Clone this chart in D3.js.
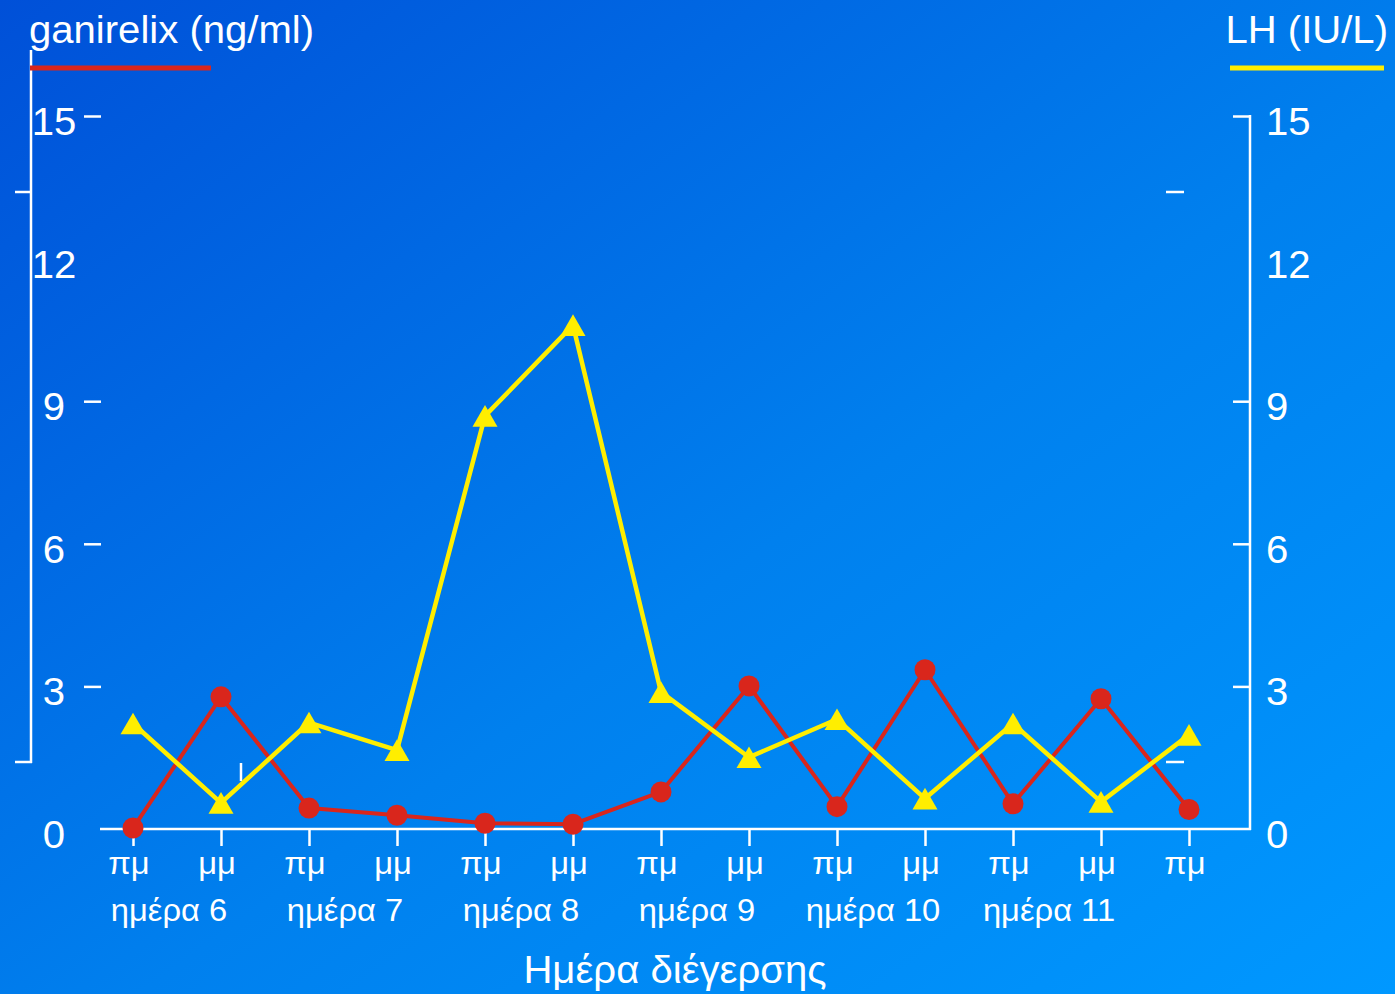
<!DOCTYPE html>
<html>
<head>
<meta charset="utf-8">
<script src="https://cdn.jsdelivr.net/npm/d3@7"></script>
<style>
  html, body { margin: 0; padding: 0; background: #0070e8; }
  svg { display: block; }
  text { font-family: "Liberation Sans", Arial, sans-serif; fill: #ffffff; }
</style>
</head>
<body>
<svg id="chart" width="1395" height="994"></svg>
<script>
// Sampling times (morning / afternoon) over stimulation days 6–11
const categories = ["πμ", "μμ", "πμ", "μμ", "πμ", "μμ", "πμ", "μμ", "πμ", "μμ", "πμ", "μμ", "πμ"];
const dayLabels = ["ημέρα 6", "ημέρα 7", "ημέρα 8", "ημέρα 9", "ημέρα 10", "ημέρα 11"];

// Serum ganirelix (ng/ml) and LH (IU/L)
const ganirelix = [0.02, 2.78, 0.44, 0.29, 0.12, 0.10, 0.78, 3.01, 0.47, 3.35, 0.53, 2.74, 0.41];
const lh        = [2.22, 0.55, 2.24, 1.66, 8.69, 10.6, 2.88, 1.51, 2.31, 0.64, 2.22, 0.57, 1.98];

// Axis ticks
const yTickLabels = [0, 3, 6, 9, 12, 15];
const yTickMarks = [3, 6, 9, 15];

const svg = d3.select("#chart");
const W = 1395, H = 994;
const SX = 1.055; // slightly wide lettering

// Places a text element at (px, py) with the wide lettering
function place(sel, px, py) {
  return sel.attr("transform", (d, i) => {
    const X = typeof px === "function" ? px(d, i) : px;
    const Y = typeof py === "function" ? py(d, i) : py;
    return `translate(${X},${Y}) scale(${SX},1)`;
  });
}

// Background gradient
const defs = svg.append("defs");
const grad = defs.append("linearGradient")
  .attr("id", "bg").attr("x1", "0").attr("y1", "0").attr("x2", "1").attr("y2", "1");
grad.append("stop").attr("offset", "0%").attr("stop-color", "#0050d8");
grad.append("stop").attr("offset", "55%").attr("stop-color", "#0080ee");
grad.append("stop").attr("offset", "100%").attr("stop-color", "#0098ff");
svg.append("rect").attr("width", W).attr("height", H).attr("fill", "url(#bg)");

const idx = categories.map((_, i) => i);
const x = d3.scalePoint().domain(idx).range([133, 1189]);
const y = d3.scaleLinear().domain([0, 15]).range([829, 116]);

const white = "#ffffff";
const red = "#d9261c";
const yellow = "#ffee00";

// Left value axis: tick marks only, detached from the outer frame line
const leftAxis = svg.append("g")
  .attr("transform", "translate(101,0)")
  .call(d3.axisLeft(y).tickValues(yTickMarks).tickSize(17).tickFormat(""));
leftAxis.select(".domain").remove();
leftAxis.selectAll(".tick line").attr("stroke", white).attr("stroke-width", 2.5);

place(svg.append("g").selectAll("text")
  .data(yTickLabels).join("text"), 54, d => y(d) + 19)
  .attr("text-anchor", "middle")
  .attr("font-size", 38)
  .text(d => d);

// Right value axis
const rightAxis = svg.append("g")
  .attr("transform", "translate(1250,0)")
  .call(d3.axisLeft(y).tickValues(yTickMarks).tickSize(17).tickFormat("").tickSizeOuter(0));
rightAxis.select(".domain").remove();
rightAxis.selectAll(".tick line").attr("stroke", white).attr("stroke-width", 2.5);
svg.append("line")
  .attr("x1", 1250).attr("x2", 1250).attr("y1", y(15) - 1).attr("y2", y(0) + 1)
  .attr("stroke", white).attr("stroke-width", 2.5);

place(svg.append("g").selectAll("text")
  .data(yTickLabels).join("text"), 1266, d => y(d) + 19)
  .attr("text-anchor", "start")
  .attr("font-size", 38)
  .text(d => d);

// Outer frame line on the far left with its short end ticks
svg.append("line").attr("x1", 31).attr("x2", 31).attr("y1", 50).attr("y2", 763)
  .attr("stroke", white).attr("stroke-width", 2.5);
svg.append("line").attr("x1", 15).attr("x2", 32).attr("y1", 192).attr("y2", 192)
  .attr("stroke", white).attr("stroke-width", 2.5);
svg.append("line").attr("x1", 15).attr("x2", 32).attr("y1", 762).attr("y2", 762)
  .attr("stroke", white).attr("stroke-width", 2.5);
// Short marks inside the right side
svg.append("line").attr("x1", 1166).attr("x2", 1184).attr("y1", 192).attr("y2", 192)
  .attr("stroke", white).attr("stroke-width", 2.5);
svg.append("line").attr("x1", 1166).attr("x2", 1184).attr("y1", 762).attr("y2", 762)
  .attr("stroke", white).attr("stroke-width", 2.5);
svg.append("line").attr("x1", 241).attr("x2", 241).attr("y1", 763).attr("y2", 781)
  .attr("stroke", white).attr("stroke-width", 2.5);

// Time axis
const xAxis = svg.append("g")
  .attr("transform", `translate(0,${y(0)})`)
  .call(d3.axisBottom(x).tickSize(17).tickSizeOuter(0).tickFormat(""));
xAxis.select(".domain").remove();
xAxis.selectAll(".tick line").attr("stroke", white).attr("stroke-width", 2.5);
svg.append("line").attr("x1", 100).attr("x2", 1251).attr("y1", y(0)).attr("y2", y(0))
  .attr("stroke", white).attr("stroke-width", 2.5);

place(svg.append("g").selectAll("text")
  .data(idx).join("text"), d => x(d) - 4, 874)
  .attr("text-anchor", "middle")
  .attr("font-size", 31)
  .text(d => categories[d]);

place(svg.append("g").selectAll("text")
  .data(dayLabels).join("text"), (d, i) => (x(2 * i) + x(2 * i + 1)) / 2 - 8, 921)
  .attr("text-anchor", "middle")
  .attr("font-size", 31)
  .text(d => d);

place(svg.append("text"), 675, 983)
  .attr("text-anchor", "middle")
  .attr("font-size", 38)
  .text("Ημέρα διέγερσης");

// Series legends (axis captions with colour keys)
place(svg.append("text"), 29, 43).attr("font-size", 38).text("ganirelix (ng/ml)");
svg.append("line").attr("x1", 30).attr("x2", 211).attr("y1", 68).attr("y2", 68)
  .attr("stroke", red).attr("stroke-width", 5);
place(svg.append("text"), 1388, 43).attr("text-anchor", "end").attr("font-size", 38).text("LH (IU/L)");
svg.append("line").attr("x1", 1230).attr("x2", 1384).attr("y1", 68).attr("y2", 68)
  .attr("stroke", yellow).attr("stroke-width", 5);

// Ganirelix series
const line = d3.line().x((d, i) => x(i)).y(d => y(d));
svg.append("path").datum(ganirelix)
  .attr("d", line).attr("fill", "none")
  .attr("stroke", red).attr("stroke-width", 4).attr("stroke-linejoin", "round");
svg.append("g").selectAll("circle")
  .data(ganirelix).join("circle")
  .attr("cx", (d, i) => x(i)).attr("cy", d => y(d)).attr("r", 10.5)
  .attr("fill", red);

// LH series
svg.append("path").datum(lh)
  .attr("d", line).attr("fill", "none")
  .attr("stroke", yellow).attr("stroke-width", 4.5).attr("stroke-linejoin", "round");
const tri = d3.symbol().type(d3.symbolTriangle).size(270);
const triShift = Math.sqrt(270 / (Math.sqrt(3) * 3)) / 2;
svg.append("g").selectAll("path")
  .data(lh).join("path")
  .attr("d", tri)
  .attr("transform", (d, i) => `translate(${x(i)},${y(d) + triShift})`)
  .attr("fill", yellow);
</script>
</body>
</html>
